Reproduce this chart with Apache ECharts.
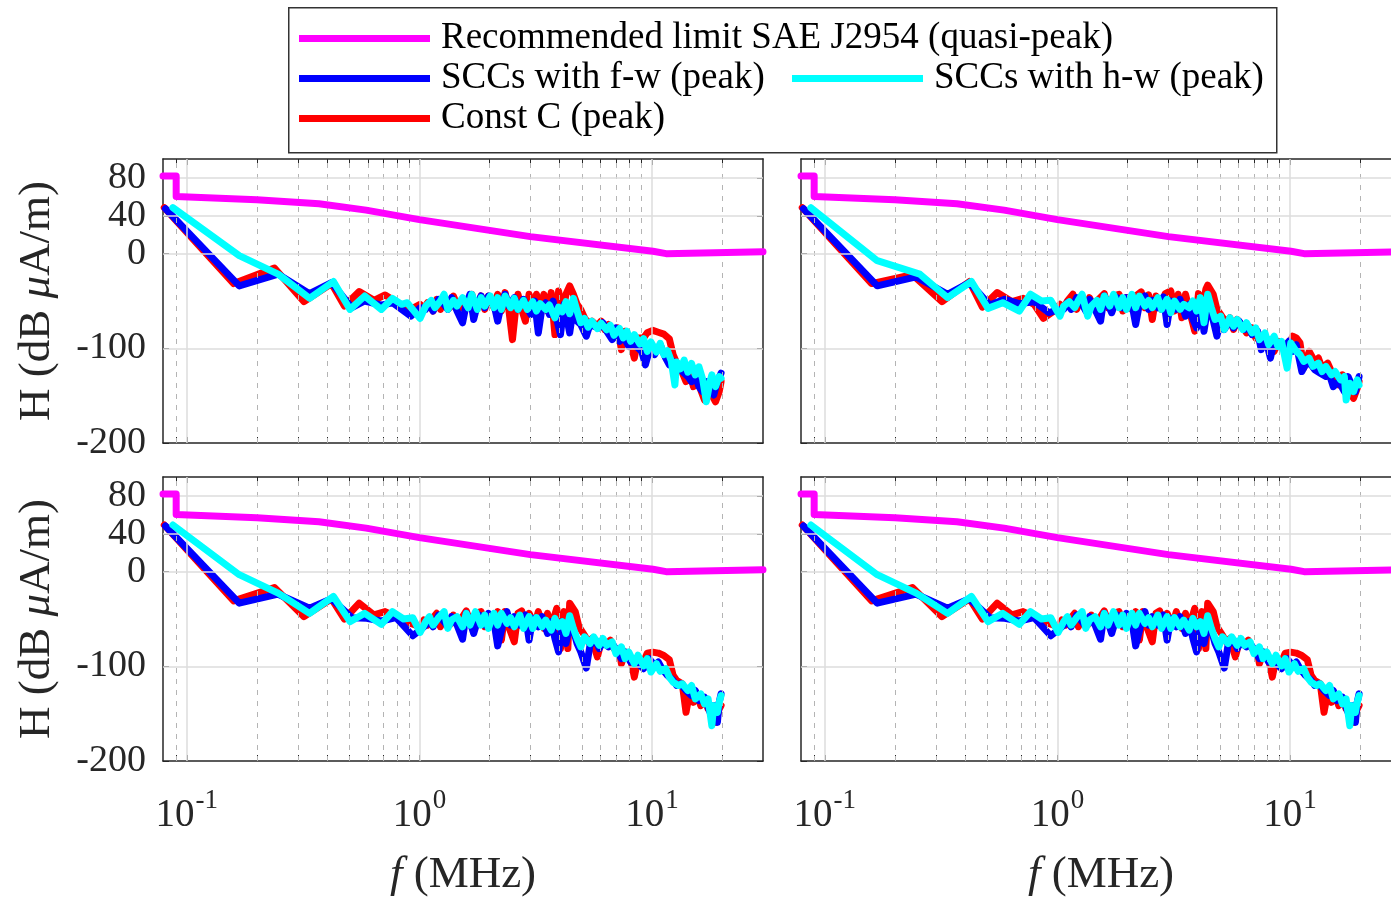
<!DOCTYPE html>
<html>
<head>
<meta charset="utf-8">
<script src="https://cdn.jsdelivr.net/npm/echarts@6/dist/echarts.min.js"></script>
<style>
  html, body { margin: 0; padding: 0; background: #fff; }
  #chart { width: 1391px; height: 899px; }
</style>
</head>
<body>
<div id="chart"></div>
<script>
// axis ranges / ticks
const fMin = 0.079, fMax = 30;
const majorF = [0.1, 1, 10];
const minorF = [0.09, 0.2, 0.3, 0.4, 0.5, 0.6, 0.7, 0.8, 0.9, 2, 3, 4, 5, 6, 7, 8, 9, 20];
const yTicks = [-200, -100, 0, 40, 80];
const yGrid = [-100, 0, 40, 80];

// SAE J2954 limit (same in every panel), [f MHz, dB uA/m]
const limitLine = [[0.079, 82], [0.09, 82], [0.09, 60.5], [0.2, 57], [0.37, 52.8], [0.59, 46], [1.0, 36], [3.0, 18], [10.1, 2.5], [11.5, 0], [30, 2]];

// top-left panel
const tlRed = [[0.080,48.6],[0.159,-31.6],[0.238,-15.2],[0.319,-50.7],[0.419,-31.6],[0.476,-55.3],[0.551,-40.1],[0.638,-49.3],[0.712,-43.6],[0.824,-53.5],[0.919,-58.9],[1.007,-53.5],
  [1.045,-58.9],[1.084,-51.8],[1.145,-60.6],[1.187,-48.2],[1.231,-58.9],[1.277,-46.5],[1.349,-57.1],[1.400,-44.7],[1.478,-58.9],[1.533,-50.0],[1.590,-57.1],[1.680,-42.9],[1.743,-60.6],[1.841,-44.7],[1.909,-58.9],[1.980,-44.7],[2.092,-57.1],[2.170,-42.9],[2.251,-60.6],[2.335,-41.1],[2.422,-58.9],[2.512,-90.8],[2.605,-53.5],[2.653,-42.9],[2.752,-58.9],[2.855,-71.3],[2.961,-42.9],[3.071,-60.6],[3.185,-42.9],[3.304,-58.9],[3.427,-42.9],[3.554,-60.6],[3.687,-41.1],[3.824,-85.5],[3.966,-39.4],[4.114,-64.2],[4.267,-42.9],[4.426,-34.0],[4.591,-42.9],[4.762,-53.5],[4.939,-58.9],[5.123,-67.7],[5.314,-73.0],[5.512,-71.3],[5.823,-76.6],[6.040,-71.3],[6.265,-80.1],[6.498,-74.8],[6.740,-85.5],[7.120,-78.4],[7.385,-101.4],[7.660,-81.9],[8.091,-94.3],[8.392,-110.3],[8.705,-89.0],[9.195,-89.0],[9.538,-83.5],[10.07,-81.0],[10.64,-83.0],[11.24,-85.0],[11.87,-90.0],[12.32,-106.7],[12.77,-115.6],[13.25,-120.9],[14.00,-135.1],[14.52,-124.5],[15.06,-140.4],[15.62,-128.0],[16.20,-144.0],[16.81,-154.6],[17.43,-142.2],[18.08,-149.3],[18.75,-156.4],[19.45,-145.7],[19.81,-135.1]];
const tlBlue = [[0.0809,47.5],[0.168,-34.0],[0.247,-21.6],[0.337,-42.2],[0.419,-30.5],[0.512,-57.1],[0.582,-50.0],[0.686,-54.3],[0.766,-51.8],[0.919,-66.0],[1.007,-57.1],
  [1.064,-58.9],[1.104,-51.8],[1.145,-60.6],[1.209,-48.2],[1.277,-53.5],[1.325,-58.9],[1.374,-46.5],[1.451,-60.6],[1.533,-73.0],[1.590,-53.5],[1.650,-42.9],[1.711,-69.5],[1.775,-53.5],[1.841,-44.7],[1.909,-57.1],[1.980,-44.7],[2.092,-53.5],[2.170,-71.3],[2.251,-53.5],[2.335,-42.9],[2.422,-55.3],[2.558,-46.5],[2.653,-58.9],[2.803,-48.2],[2.907,-57.1],[3.015,-64.2],[3.128,-50.0],[3.244,-83.7],[3.365,-57.1],[3.490,-51.8],[3.620,-64.2],[3.755,-50.0],[3.895,-69.5],[4.040,-85.5],[4.190,-53.5],[4.426,-83.7],[4.591,-57.1],[4.762,-71.3],[4.939,-74.8],[5.218,-87.2],[5.412,-74.8],[5.614,-76.6],[5.930,-78.4],[6.151,-73.0],[6.380,-81.9],[6.740,-90.8],[6.991,-78.4],[7.251,-92.6],[7.521,-87.2],[7.945,-97.9],[8.240,-92.6],[8.705,-99.6],[9.029,-103.2],[9.365,-117.4],[9.893,-96.1],[10.26,-106.7],[10.84,-96.1],[11.45,-110.3],[11.87,-117.4],[12.32,-113.8],[13.01,-120.9],[13.49,-124.5],[14.26,-129.8],[14.79,-135.1],[15.34,-129.8],[15.91,-140.4],[16.50,-145.7],[17.12,-135.1],[17.75,-144.0],[18.42,-149.3],[19.10,-135.1],[19.81,-126.2]];
const tlCyan = [[0.0871,48.6],[0.168,-2.1],[0.247,-21.6],[0.337,-47.2],[0.427,-29.4],[0.503,-58.9],[0.582,-44.7],[0.686,-58.9],[0.766,-47.2],[0.839,-53.5],[0.886,-51.8],[1.007,-68.4],
  [1.064,-55.3],[1.124,-49.3],[1.166,-57.1],[1.231,-50.0],[1.277,-42.9],[1.325,-58.9],[1.400,-49.3],[1.451,-55.3],[1.533,-46.5],[1.620,-57.1],[1.680,-42.9],[1.775,-58.9],[1.841,-46.5],[1.909,-55.3],[2.017,-44.7],[2.092,-57.1],[2.170,-46.5],[2.251,-58.9],[2.335,-44.7],[2.466,-57.1],[2.558,-47.2],[2.653,-58.9],[2.803,-49.3],[2.907,-58.9],[3.071,-50.7],[3.185,-60.6],[3.304,-52.8],[3.490,-58.9],[3.620,-54.3],[3.824,-67.7],[3.966,-56.4],[4.114,-61.3],[4.267,-50.7],[4.426,-63.5],[4.591,-47.2],[4.762,-60.6],[4.939,-73.0],[5.123,-68.4],[5.314,-77.7],[5.512,-71.3],[5.823,-79.1],[6.040,-73.4],[6.380,-80.5],[6.618,-75.5],[6.864,-86.2],[7.251,-79.1],[7.521,-89.0],[7.801,-81.9],[8.091,-92.6],[8.392,-85.5],[8.865,-95.4],[9.195,-89.7],[9.538,-103.2],[9.893,-93.3],[10.45,-103.9],[10.84,-94.7],[11.24,-106.7],[11.66,-102.5],[12.09,-113.1],[12.54,-138.7],[12.77,-114.5],[13.25,-121.6],[13.74,-112.4],[14.26,-125.2],[14.79,-116.0],[15.34,-128.0],[15.91,-119.5],[16.50,-132.3],[17.12,-156.4],[17.75,-135.1],[18.08,-128.0],[18.75,-140.4],[19.45,-129.8],[19.81,-131.6]];

// top-right panel
const trRed = [[0.080,48.6],[0.159,-31.6],[0.238,-22.3],[0.319,-50.7],[0.419,-29.4],[0.476,-56.4],[0.551,-41.1],[0.638,-50.7],[0.712,-47.2],[0.794,-53.5],[0.870,-68.4],[0.989,-58.9],
  [1.026,-53.5],[1.064,-57.1],[1.104,-50.0],[1.166,-42.9],[1.209,-58.9],[1.277,-44.7],[1.325,-57.1],[1.374,-46.5],[1.451,-58.9],[1.506,-48.2],[1.590,-42.2],[1.650,-57.1],[1.743,-44.7],[1.841,-42.9],[1.909,-60.6],[1.980,-46.5],[2.092,-58.9],[2.170,-44.7],[2.292,-40.4],[2.378,-57.1],[2.466,-43.6],[2.558,-69.5],[2.653,-44.7],[2.803,-58.9],[2.907,-42.2],[3.071,-39.4],[3.185,-60.6],[3.304,-42.9],[3.427,-67.7],[3.554,-42.9],[3.687,-58.9],[3.895,-81.9],[4.040,-42.2],[4.190,-58.9],[4.346,-37.6],[4.426,-33.3],[4.676,-42.9],[4.850,-58.9],[5.030,-64.2],[5.314,-73.0],[5.512,-67.7],[5.717,-80.1],[5.930,-69.5],[6.265,-76.6],[6.498,-83.7],[6.864,-78.4],[7.120,-89.0],[7.385,-85.5],[7.801,-96.1],[8.091,-92.6],[8.547,-103.2],[8.865,-92.6],[9.195,-96.1],[9.713,-103.2],[10.26,-87.2],[10.64,-89.0],[11.04,-94.3],[11.45,-120.9],[12.09,-103.2],[12.77,-113.8],[13.25,-110.3],[13.74,-120.9],[14.52,-115.6],[15.06,-124.5],[15.62,-129.8],[16.20,-138.7],[16.81,-128.0],[17.43,-140.4],[18.08,-145.7],[18.75,-152.8],[19.45,-142.2],[19.81,-135.1]];
const trBlue = [[0.0809,47.5],[0.168,-34.0],[0.247,-24.5],[0.337,-42.9],[0.419,-30.5],[0.512,-54.3],[0.593,-48.2],[0.686,-52.8],[0.794,-50.7],[0.919,-62.4],[1.007,-58.9],
  [1.064,-58.9],[1.104,-51.8],[1.145,-58.9],[1.209,-46.5],[1.277,-53.5],[1.325,-60.6],[1.374,-48.2],[1.451,-58.9],[1.533,-71.3],[1.590,-44.7],[1.650,-53.5],[1.711,-62.4],[1.807,-46.5],[1.909,-57.1],[1.980,-46.5],[2.092,-53.5],[2.170,-74.8],[2.251,-53.5],[2.378,-44.7],[2.466,-58.9],[2.558,-49.3],[2.702,-57.1],[2.855,-45.7],[2.961,-74.8],[3.071,-50.0],[3.244,-58.9],[3.365,-48.2],[3.554,-66.0],[3.687,-53.5],[3.824,-69.5],[3.966,-78.4],[4.114,-51.8],[4.267,-81.9],[4.426,-57.1],[4.591,-62.4],[4.850,-87.2],[5.030,-71.3],[5.218,-80.1],[5.512,-70.6],[5.717,-78.4],[6.040,-71.3],[6.380,-80.1],[6.618,-76.6],[6.864,-85.5],[7.251,-81.9],[7.521,-101.4],[7.801,-87.2],[8.240,-110.3],[8.547,-92.6],[8.865,-97.9],[9.365,-99.6],[9.893,-92.6],[10.26,-103.2],[10.64,-96.1],[11.24,-124.5],[11.87,-113.8],[12.32,-117.4],[12.77,-122.7],[13.49,-126.2],[14.26,-129.8],[14.79,-128.0],[15.34,-140.4],[16.20,-135.1],[17.12,-145.7],[17.75,-129.8],[18.42,-138.7],[19.10,-145.7],[19.81,-129.8]];
const trCyan = [[0.0871,48.6],[0.168,-7.4],[0.256,-21.6],[0.337,-46.5],[0.427,-29.4],[0.503,-57.8],[0.582,-51.8],[0.686,-60.6],[0.766,-42.9],[0.855,-50.0],[0.936,-49.3],[1.026,-66.0],
  [1.064,-55.3],[1.124,-50.7],[1.187,-57.1],[1.231,-49.3],[1.277,-42.9],[1.349,-66.0],[1.400,-55.3],[1.478,-49.3],[1.533,-58.9],[1.590,-44.7],[1.680,-55.3],[1.743,-42.9],[1.841,-57.1],[1.909,-46.5],[1.980,-58.9],[2.092,-42.9],[2.170,-57.1],[2.251,-44.7],[2.378,-55.3],[2.466,-49.3],[2.558,-57.1],[2.702,-46.5],[2.803,-58.9],[2.961,-48.2],[3.071,-62.4],[3.185,-50.0],[3.365,-58.9],[3.490,-53.5],[3.687,-57.1],[3.824,-50.0],[3.966,-60.6],[4.114,-46.5],[4.267,-73.0],[4.426,-42.9],[4.591,-57.1],[4.762,-69.5],[5.030,-66.0],[5.218,-80.1],[5.512,-67.7],[5.717,-76.6],[5.930,-69.5],[6.265,-80.1],[6.498,-73.0],[6.864,-83.7],[7.120,-78.4],[7.385,-90.8],[7.801,-83.7],[8.091,-96.1],[8.547,-87.2],[8.865,-97.9],[9.195,-92.6],[9.713,-120.9],[10.07,-94.3],[10.64,-103.2],[11.04,-106.7],[11.45,-113.8],[12.09,-110.3],[12.54,-119.1],[13.25,-115.6],[13.74,-124.5],[14.26,-119.1],[15.06,-128.0],[15.62,-124.5],[16.50,-133.3],[17.12,-129.8],[17.43,-154.6],[18.08,-136.9],[18.75,-145.7],[19.45,-133.3],[19.81,-138.7]];

// bottom panels (both show the same traces)
const btRed = [[0.080,49.3],[0.159,-30.9],[0.238,-16.7],[0.319,-47.5],[0.419,-28.7],[0.476,-50.0],[0.551,-33.3],[0.638,-45.7],[0.712,-42.2],[0.824,-49.3],[0.919,-54.6],[1.007,-58.2],
  [1.045,-51.1],[1.084,-56.4],[1.145,-48.6],[1.187,-44.0],[1.231,-58.2],[1.277,-45.8],[1.349,-56.4],[1.400,-45.8],[1.478,-58.2],[1.533,-47.5],[1.590,-41.5],[1.680,-58.2],[1.743,-44.0],[1.841,-42.2],[1.909,-58.2],[1.980,-45.8],[2.092,-56.4],[2.170,-42.2],[2.251,-72.3],[2.335,-42.2],[2.422,-58.2],[2.558,-74.1],[2.653,-44.0],[2.752,-41.5],[2.855,-58.2],[2.961,-44.0],[3.128,-56.4],[3.244,-42.2],[3.427,-59.9],[3.554,-44.0],[3.687,-58.2],[3.895,-38.7],[4.040,-81.2],[4.190,-42.2],[4.346,-81.2],[4.426,-33.3],[4.676,-42.2],[4.850,-58.2],[5.123,-67.0],[5.314,-74.1],[5.512,-70.6],[5.823,-90.1],[6.040,-74.1],[6.380,-77.7],[6.618,-72.3],[6.864,-81.2],[7.251,-84.8],[7.385,-97.2],[7.660,-84.8],[8.091,-91.9],[8.392,-111.4],[8.705,-91.9],[9.195,-95.4],[9.538,-86.0],[10.07,-85.0],[10.64,-86.0],[11.24,-88.5],[11.87,-93.0],[12.32,-109.6],[12.77,-114.9],[13.49,-118.4],[14.00,-148.6],[14.52,-127.3],[15.06,-138.0],[15.62,-129.1],[16.20,-141.5],[16.81,-134.4],[17.43,-145.0],[18.08,-148.6],[18.75,-159.2],[19.45,-145.0],[19.81,-141.5]];
const btBlue = [[0.0809,48.2],[0.168,-33.3],[0.247,-23.8],[0.337,-38.7],[0.419,-28.7],[0.512,-48.6],[0.593,-49.3],[0.686,-52.1],[0.794,-48.6],[0.936,-67.7],[1.007,-61.7],
  [1.064,-56.4],[1.104,-51.1],[1.145,-58.2],[1.209,-45.8],[1.277,-52.8],[1.325,-58.2],[1.374,-47.5],[1.451,-56.4],[1.533,-71.3],[1.590,-44.0],[1.650,-52.8],[1.711,-65.2],[1.807,-45.8],[1.909,-56.4],[1.980,-44.0],[2.092,-52.8],[2.170,-78.4],[2.292,-54.6],[2.378,-42.2],[2.466,-56.4],[2.558,-47.5],[2.702,-56.4],[2.855,-45.8],[2.961,-72.3],[3.071,-49.3],[3.244,-58.2],[3.365,-47.5],[3.554,-65.2],[3.687,-52.8],[3.824,-70.6],[3.966,-84.8],[4.114,-52.8],[4.267,-75.9],[4.426,-56.4],[4.591,-61.7],[4.762,-75.9],[4.939,-84.8],[5.218,-101.8],[5.412,-77.7],[5.717,-72.3],[5.930,-81.2],[6.151,-74.1],[6.498,-79.4],[6.740,-75.9],[7.120,-84.8],[7.385,-91.9],[7.660,-84.8],[8.091,-95.4],[8.547,-93.7],[8.865,-98.9],[9.195,-102.5],[9.713,-91.9],[10.26,-98.9],[10.64,-95.4],[11.04,-102.5],[11.66,-109.6],[12.32,-114.9],[12.77,-120.2],[13.25,-118.4],[14.00,-125.5],[14.79,-130.9],[15.34,-125.5],[15.91,-136.2],[16.81,-132.6],[17.75,-148.6],[18.42,-141.5],[19.10,-159.2],[19.45,-137.9],[19.81,-129.1]];
const btCyan = [[0.0871,49.3],[0.168,-3.2],[0.247,-22.7],[0.337,-44.0],[0.427,-26.2],[0.503,-52.8],[0.582,-44.0],[0.686,-55.7],[0.766,-42.2],[0.855,-50.0],[0.936,-48.6],[1.007,-64.2],
  [1.064,-52.8],[1.104,-47.5],[1.145,-56.4],[1.209,-48.6],[1.277,-42.2],[1.325,-59.9],[1.374,-51.1],[1.451,-47.5],[1.533,-58.2],[1.590,-44.0],[1.650,-56.4],[1.743,-42.2],[1.841,-56.4],[1.909,-45.8],[1.980,-59.9],[2.092,-44.0],[2.170,-56.4],[2.251,-44.0],[2.378,-54.6],[2.466,-48.6],[2.558,-58.2],[2.702,-45.8],[2.803,-59.9],[2.961,-47.5],[3.071,-59.9],[3.185,-48.6],[3.365,-58.2],[3.490,-51.1],[3.687,-61.7],[3.824,-49.3],[3.966,-58.2],[4.114,-52.8],[4.267,-65.2],[4.426,-46.5],[4.591,-59.9],[4.762,-70.6],[4.939,-79.4],[5.123,-68.8],[5.412,-75.9],[5.614,-68.8],[5.930,-77.7],[6.151,-70.6],[6.380,-77.7],[6.740,-74.1],[6.991,-86.5],[7.385,-79.4],[7.660,-91.9],[7.945,-84.8],[8.392,-97.2],[8.705,-88.3],[9.195,-99.6],[9.538,-91.9],[9.893,-106.0],[10.45,-97.2],[10.84,-105.3],[11.45,-102.5],[11.87,-111.4],[12.32,-116.7],[13.01,-120.2],[13.49,-118.4],[14.26,-125.5],[14.79,-120.2],[15.34,-134.4],[16.20,-129.1],[16.81,-139.7],[17.43,-134.4],[18.08,-162.8],[18.42,-141.5],[19.10,-148.6],[19.45,-137.9],[19.81,-130.9]];

const names = {
    limit: 'Recommended limit SAE J2954 (quasi-peak)',
    blue: 'SCCs with f-w (peak)',
    cyan: 'SCCs with h-w (peak)',
    red: 'Const C (peak)'
};

const panels = [
    { left: 163, top: 159, red: tlRed, blue: tlBlue, cyan: tlCyan, xLabels: false, yLabels: true },
    { left: 801, top: 159, red: trRed, blue: trBlue, cyan: trCyan, xLabels: false, yLabels: false },
    { left: 163, top: 477, red: btRed, blue: btBlue, cyan: btCyan, xLabels: true, yLabels: true },
    { left: 801, top: 477, red: btRed, blue: btBlue, cyan: btCyan, xLabels: true, yLabels: false }
];

const serif = 'Liberation Serif, Times New Roman, serif';
const axisColor = '#262626';

function decadeLabel(v) {
    const lg = Math.log10(v);
    const e = Math.round(lg);
    if (Math.abs(lg - e) > 1e-6) return '';
    return '{b|10}{s|' + e + '}';
}

const grids = [], xAxes = [], yAxes = [], series = [];

panels.forEach(function (p, i) {
    grids.push({ left: p.left, top: p.top, width: 600, height: 284, outerBoundsMode: 'none', show: false });

    const xBase = {
        type: 'log', logBase: 10, gridIndex: i, min: fMin, max: fMax,
        axisLine: { show: true, onZero: false, lineStyle: { color: axisColor, width: 1.5 } },
        axisTick: { show: true, inside: true, length: 6, customValues: majorF.concat(minorF), lineStyle: { color: axisColor, width: 1 } },
        splitLine: { show: false },
        minorTick: { show: false },
        axisLabel: { show: false }
    };
    xAxes.push(Object.assign({}, xBase, {
        position: 'bottom',
        axisLabel: {
            show: p.xLabels, customValues: majorF, margin: 26, formatter: decadeLabel,
            rich: {
                b: { fontFamily: serif, fontSize: 39, color: axisColor },
                s: { fontFamily: serif, fontSize: 27, color: axisColor, padding: [0, 0, 30, 1] }
            }
        },
        name: p.xLabels ? '{i|f}{a| (MHz)}' : '',
        nameLocation: 'middle', nameGap: 92,
        nameTextStyle: {
            rich: {
                i: { fontFamily: serif, fontSize: 45, fontStyle: 'italic', color: axisColor },
                a: { fontFamily: serif, fontSize: 45, color: axisColor }
            }
        }
    }));
    xAxes.push(Object.assign({}, xBase, { position: 'top' }));

    const yBase = {
        type: 'value', gridIndex: i, min: -200, max: 100,
        axisLine: { show: true, onZero: false, lineStyle: { color: axisColor, width: 1.5 } },
        axisTick: { show: true, inside: true, length: 6, customValues: yTicks, lineStyle: { color: axisColor, width: 1 } },
        splitLine: { show: false },
        axisLabel: { show: false }
    };
    yAxes.push(Object.assign({}, yBase, {
        position: 'left',
        axisLabel: { show: p.yLabels, customValues: yTicks, margin: 17, fontFamily: serif, fontSize: 38, color: axisColor, hideOverlap: false },
        name: p.yLabels ? '{a|H (dB }{i|\u03bc}{a|A/m)}' : '',
        nameLocation: 'middle', nameGap: 103, nameRotate: 90,
        nameTextStyle: {
            rich: {
                a: { fontFamily: serif, fontSize: 45, color: axisColor },
                i: { fontFamily: serif, fontSize: 45, fontStyle: 'italic', color: axisColor }
            }
        }
    }));
    yAxes.push(Object.assign({}, yBase, { position: 'right' }));

    const xi = 2 * i, yi = 2 * i;

    // grid lines (MATLAB style: solid major, dashed minor)
    const gridMarks = [];
    majorF.forEach(function (f) { gridMarks.push({ xAxis: f, lineStyle: { color: '#dcdcdc', width: 1.5, type: 'solid' } }); });
    minorF.forEach(function (f) { gridMarks.push({ xAxis: f, lineStyle: { color: '#b4b4b4', width: 1, type: [5, 6] } }); });
    yGrid.forEach(function (v) { gridMarks.push({ yAxis: v, lineStyle: { color: '#dcdcdc', width: 1.5, type: 'solid' } }); });
    series.push({
        type: 'line', xAxisIndex: xi, yAxisIndex: yi, data: [], z: 1, silent: true,
        markLine: { silent: true, symbol: 'none', animation: false, label: { show: false }, data: gridMarks }
    });

    const lineOf = function (name, data, color, z, width) {
        return {
            name: name, type: 'line', xAxisIndex: xi, yAxisIndex: yi, data: data,
            showSymbol: false, symbol: 'none', z: z, silent: true,
            itemStyle: { color: color },
            lineStyle: { color: color, width: width, join: 'round', cap: 'round' }
        };
    };
    series.push(lineOf(names.limit, limitLine, '#ff00ff', 6, 7));
    series.push(lineOf(names.red, p.red, '#ff0000', 3, 7));
    series.push(lineOf(names.blue, p.blue, '#0000ff', 4, 7));
    series.push(lineOf(names.cyan, p.cyan, '#00ffff', 5, 7));
});

const legendBase = {
    icon: 'rect', itemWidth: 131, itemHeight: 7, padding: 0, selectedMode: false,
    textStyle: { fontFamily: serif, fontSize: 37, color: '#000', padding: [0, 0, 0, 6] }
};
const legends = [
    Object.assign({}, legendBase, { data: [names.limit], left: 299, top: 20 }),
    Object.assign({}, legendBase, { data: [names.blue], left: 299, top: 60 }),
    Object.assign({}, legendBase, { data: [names.cyan], left: 792, top: 60 }),
    Object.assign({}, legendBase, { data: [names.red], left: 299, top: 100 })
];

const chart = echarts.init(document.getElementById('chart'), null, { renderer: 'canvas' });
chart.setOption({
    animation: false,
    backgroundColor: '#fff',
    grid: grids,
    xAxis: xAxes,
    yAxis: yAxes,
    legend: legends,
    graphic: [{
        type: 'rect', left: 288, top: 7, silent: true, z: -1,
        shape: { width: 988, height: 145 },
        style: { fill: '#fff', stroke: '#333', lineWidth: 1.5 }
    }],
    series: series
});
</script>
</body>
</html>
